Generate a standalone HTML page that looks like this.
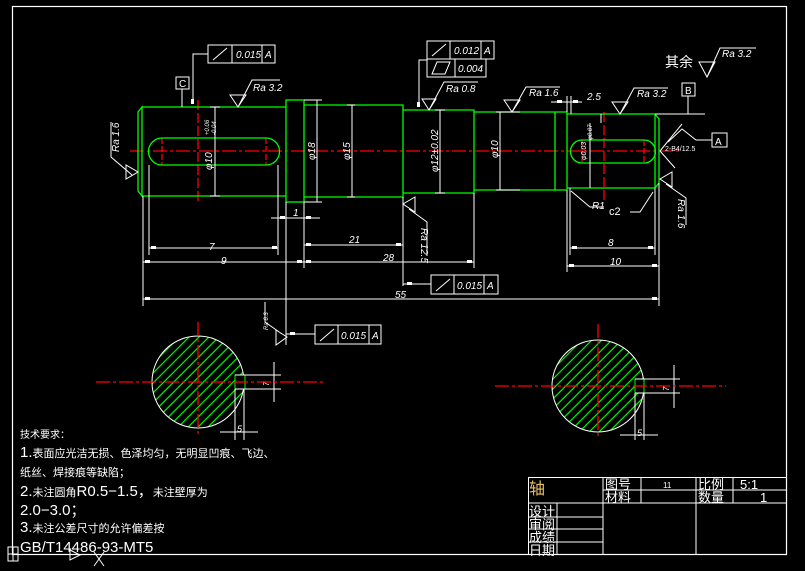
<!DOCTYPE html>
<html><head><meta charset="utf-8"><style>
html,body{margin:0;padding:0;background:#000;}
svg{display:block;}
text{font-family:"Liberation Sans","Noto Sans CJK SC",sans-serif;fill:#fff;}
.t{font-size:10px;font-style:italic;}
</style></head><body>
<svg width="805" height="571" viewBox="0 0 805 571" xmlns="http://www.w3.org/2000/svg">
<rect width="805" height="571" fill="#000"/>
<rect x="12.5" y="6.5" width="774" height="548" fill="none" stroke="#fff" stroke-width="1.2"/>

<g stroke="#f00" stroke-width="1.3" stroke-dasharray="14,3,3,3" fill="none">
<line x1="130" y1="151" x2="680" y2="151"/>
<line x1="198" y1="100" x2="198" y2="204" stroke-dasharray="10,3"/>
<line x1="604" y1="112" x2="604" y2="200" stroke-dasharray="10,3"/>
<line x1="162" y1="138" x2="162" y2="165" stroke-dasharray="6,2"/>
<line x1="266" y1="138" x2="266" y2="165" stroke-dasharray="6,2"/>
<line x1="582" y1="140" x2="582" y2="163" stroke-dasharray="6,2"/>
<line x1="644" y1="140" x2="644" y2="163" stroke-dasharray="6,2"/>
</g>

<g stroke="#0f0" stroke-width="1.3" fill="none">
<path d="M142,107 L286,107 M138,112 L142,107 L142,196 L138,191 Z M142,196 L286,196"/>
<rect x="286" y="100" width="18" height="102"/>
<path d="M304,105 L403,105 L403,197 L304,197"/>
<path d="M403,110 L474,110 L474,193 L403,193"/>
<path d="M474,112 L567,112 M474,190 L567,190 M555,112 L555,190"/>
<path d="M567,114 L655,114 L659,119 L659,183 L655,188 L567,188 M655,114 L655,188"/>
<path d="M567,112 L567,190"/>
<path d="M162,138 L266,138 A13.5,13.5 0 0 1 266,165 L162,165 A13.5,13.5 0 0 1 162,138 Z"/>
<path d="M582,140 L644,140 A11.5,11.5 0 0 1 644,163 L582,163 A11.5,11.5 0 0 1 582,140 Z"/>
</g>

<g stroke="#fff" stroke-width="1" fill="none">
<line x1="143" y1="196" x2="143" y2="306"/>
<line x1="149" y1="165" x2="149" y2="255"/>
<line x1="278" y1="165" x2="278" y2="255"/>
<line x1="286" y1="202" x2="286" y2="345"/>
<line x1="304" y1="202" x2="304" y2="268"/>
<line x1="403" y1="197" x2="403" y2="286"/>
<line x1="474" y1="193" x2="474" y2="268"/>
<line x1="567" y1="190" x2="567" y2="272"/>
<line x1="570" y1="188" x2="570" y2="255"/>
<line x1="655" y1="188" x2="655" y2="255"/>
<line x1="659" y1="183" x2="659" y2="306"/>
<line x1="567" y1="96" x2="567" y2="112"/>
<line x1="571" y1="96" x2="571" y2="114"/>
<line x1="149" y1="248" x2="278" y2="248"/>
<line x1="143" y1="262" x2="304" y2="262"/>
<line x1="304" y1="245" x2="403" y2="245"/>
<line x1="304" y1="262" x2="474" y2="262"/>
<line x1="143" y1="299" x2="659" y2="299"/>
<line x1="271" y1="218" x2="320" y2="218"/>
<line x1="570" y1="248" x2="655" y2="248"/>
<line x1="567" y1="266" x2="659" y2="266"/>
<line x1="551" y1="102" x2="582" y2="102"/>
<line x1="215" y1="107" x2="215" y2="196"/>
<line x1="210" y1="107" x2="220" y2="107"/><line x1="210" y1="196" x2="220" y2="196"/>
<line x1="317" y1="100" x2="317" y2="202"/>
<line x1="304" y1="100" x2="322" y2="100"/><line x1="304" y1="202" x2="322" y2="202"/>
<line x1="352" y1="105" x2="352" y2="197"/>
<line x1="347" y1="105" x2="355" y2="105"/><line x1="347" y1="197" x2="355" y2="197"/>
<line x1="440" y1="110" x2="440" y2="193"/>
<line x1="435" y1="110" x2="445" y2="110"/><line x1="435" y1="193" x2="445" y2="193"/>
<line x1="500" y1="112" x2="500" y2="190"/>
<line x1="496" y1="112" x2="520" y2="112"/><line x1="496" y1="190" x2="520" y2="190"/>
<line x1="590" y1="123" x2="590" y2="188"/>
<line x1="601" y1="114" x2="601" y2="123"/>
<polyline points="571,191 590,207 604,207"/>
<polyline points="653,192 640,212 630,212"/>
<rect x="208" y="45" width="67" height="18"/>
<line x1="232" y1="45" x2="232" y2="63"/><line x1="262" y1="45" x2="262" y2="63"/>
<polyline points="208,54 193,54 193,100"/>
<rect x="176" y="77" width="13" height="12"/>
<line x1="182" y1="89" x2="182" y2="107"/>
<rect x="427" y="41" width="67" height="18"/>
<line x1="450" y1="41" x2="450" y2="59"/><line x1="481" y1="41" x2="481" y2="59"/>
<rect x="427" y="59" width="59" height="18"/>
<line x1="455" y1="59" x2="455" y2="77"/>
<polyline points="427,60 419,60 419,107"/>
<rect x="431" y="275" width="67" height="19"/>
<line x1="454" y1="275" x2="454" y2="294"/><line x1="484" y1="275" x2="484" y2="294"/>
<line x1="403" y1="284" x2="431" y2="284"/>
<rect x="315" y="325" width="66" height="19"/>
<line x1="338" y1="325" x2="338" y2="344"/><line x1="369" y1="325" x2="369" y2="344"/>
<line x1="286" y1="334" x2="315" y2="334"/>
<rect x="682" y="83" width="13" height="13"/>
<line x1="688" y1="96" x2="688" y2="114"/>
<line x1="655" y1="114" x2="705" y2="114"/>
<rect x="712" y="133" width="15" height="14"/>
<polyline points="712,140 696,140 682,129 668,142"/>
<line x1="682" y1="124" x2="660" y2="151"/><line x1="660" y1="151" x2="675" y2="168"/>
<path d="M230,95 L246,95 L238,107 Z M238,107 L252,80 L280,80"/>
<path d="M422,99 L436,99 L429,110 Z M429,110 L444,82 L478,82"/>
<path d="M504,100 L520,100 L512,112 Z M512,112 L526,87 L560,87"/>
<path d="M612,102 L628,102 L620,114 Z M620,114 L634,88 L668,88"/>
<path d="M699,62 L715,62 L707,77 Z M707,77 L720,48 L756,48"/>
<path d="M126,165 L126,179 L138,172 Z M132,175 L111,157 L111,122"/>
<path d="M415,197 L415,212 L403,204 Z M409,209 L427,222 L427,256"/>
<path d="M672,172 L672,187 L660,179 Z M666,184 L686,198 L686,225"/>
<path d="M276,330 L276,345 L287,337 Z M282,334 L265,322 L265,302"/>
<line x1="213" y1="60" x2="227" y2="48"/><line x1="432" y1="56" x2="446" y2="44"/>
<line x1="436" y1="291" x2="450" y2="279"/><line x1="320" y1="341" x2="334" y2="329"/>
<path d="M432,74 L437,62 L450,62 L445,74 Z"/>
</g>
<g fill="#fff">
<rect x="151" y="246" width="5" height="3"/><rect x="272" y="246" width="5" height="3"/>
<rect x="145" y="260" width="5" height="3"/><rect x="297" y="260" width="5" height="3"/>
<rect x="306" y="243" width="5" height="3"/><rect x="396" y="243" width="5" height="3"/>
<rect x="306" y="260" width="5" height="3"/><rect x="467" y="260" width="5" height="3"/>
<rect x="145" y="297" width="5" height="3"/><rect x="652" y="297" width="5" height="3"/>
<rect x="280" y="216" width="5" height="3"/><rect x="306" y="216" width="5" height="3"/>
<rect x="572" y="246" width="5" height="3"/><rect x="648" y="246" width="5" height="3"/>
<rect x="569" y="264" width="5" height="3"/><rect x="652" y="264" width="5" height="3"/>
<rect x="557" y="100" width="5" height="3"/><rect x="573" y="100" width="5" height="3"/>
<rect x="191" y="99" width="3" height="5"/><rect x="417" y="102" width="3" height="5"/>
<rect x="407" y="282" width="5" height="3"/><rect x="290" y="332" width="5" height="3"/>
</g>
<g class="t">
<text x="236" y="58">0.015</text><text x="265" y="58">A</text>
<text x="179" y="87" font-style="normal">C</text>
<text x="454" y="54">0.012</text><text x="484" y="54">A</text>
<text x="458" y="72">0.004</text>
<text x="457" y="289">0.015</text><text x="487" y="289">A</text>
<text x="341" y="339">0.015</text><text x="372" y="339">A</text>
<text x="685" y="94" font-style="normal">B</text>
<text x="715" y="145" font-style="normal">A</text>
<text x="253" y="91">Ra 3.2</text>
<text x="446" y="92">Ra 0.8</text>
<text x="529" y="96">Ra 1.6</text>
<text x="637" y="97">Ra 3.2</text>
<text x="722" y="57">Ra 3.2</text>
<text x="665" y="67" font-style="normal" font-size="14">其余</text>
<text x="209" y="250">7</text><text x="221" y="264">9</text>
<text x="349" y="243">21</text><text x="383" y="261">28</text>
<text x="395" y="298">55</text><text x="293" y="216">1</text>
<text x="608" y="246">8</text><text x="610" y="265">10</text>
<text x="587" y="100">2.5</text>
<text x="592" y="209">R1</text>
<text x="609" y="215" font-style="normal" font-size="11">c2</text>
<text x="665" y="151" font-size="7" font-style="normal">2-B4/12.5</text>
<text transform="translate(212,170) rotate(-90)">φ10</text>
<text transform="translate(209,135) rotate(-90)" font-size="6">+0.06</text>
<text transform="translate(216,135) rotate(-90)" font-size="6">-0.04</text>
<text transform="translate(315,160) rotate(-90)">φ18</text>
<text transform="translate(350,160) rotate(-90)">φ15</text>
<text transform="translate(438,172) rotate(-90)">φ12±0.02</text>
<text transform="translate(498,158) rotate(-90)">φ10</text>
<text transform="translate(586,160) rotate(-90)" font-size="7">φ0.03</text>
<text transform="translate(592,140) rotate(-90)" font-size="6">φ0.07</text>
<text transform="translate(119,152) rotate(-90)">Ra 1.6</text>
<text transform="translate(421,228) rotate(90)">Ra 12.5</text>
<text transform="translate(678,199) rotate(90)">Ra 1.6</text>
<text transform="translate(268,330) rotate(-90)" font-size="6">Ra 6.3</text>
<text transform="translate(269,386) rotate(-90)" font-size="8">7</text>
<text transform="translate(669,391) rotate(-90)" font-size="8">7</text>
<text x="237" y="432" font-size="9">5</text>
<text x="637" y="436" font-size="9">5</text>
</g>

<defs><pattern id="h" width="7" height="7" patternUnits="userSpaceOnUse" patternTransform="rotate(45)"><line x1="1" y1="0" x2="1" y2="7" stroke="#0f0" stroke-width="1.2"/></pattern></defs>
<g stroke="#fff" stroke-width="1" fill="none">
<circle cx="198" cy="382" r="46" fill="url(#h)"/>
<rect x="235" y="375" width="10" height="14" fill="#000" stroke="#0f0"/>
<path d="M235,375 L281,375 M235,389 L281,389 M274,362 L274,402 M235,389 L235,440 M244,389 L244,440 M220,432 L258,432"/>
<circle cx="598" cy="386" r="46" fill="url(#h)"/>
<rect x="635" y="379" width="9" height="14" fill="#000" stroke="#0f0"/>
<path d="M635,379 L680,379 M635,393 L680,393 M674,365 L674,408 M635,393 L635,440 M644,393 L644,440 M620,435 L658,435"/>
</g>
<g stroke="#f00" stroke-width="1.3" stroke-dasharray="14,3,3,3">
<line x1="96" y1="382" x2="326" y2="382"/><line x1="198" y1="322" x2="198" y2="434"/>
<line x1="495" y1="386" x2="726" y2="386"/><line x1="598" y1="324" x2="598" y2="436"/>
</g>

<g font-size="11">
<text x="20" y="438" font-size="10">技术要求：</text>
<text x="20" y="457"><tspan font-size="15">1.</tspan>表面应光洁无损、色泽均匀，无明显凹痕、飞边、</text>
<text x="20" y="476">纸丝、焊接痕等缺陷；</text>
<text x="20" y="496"><tspan font-size="15">2.</tspan>未注圆角<tspan font-size="15">R0.5−1.5，</tspan>未注壁厚为</text>
<text x="20" y="515" font-size="15">2.0−3.0；</text>
<text x="20" y="532"><tspan font-size="15">3.</tspan>未注公差尺寸的允许偏差按</text>
<text x="20" y="552" font-size="15">GB/T14486-93-MT5</text>
</g>
<g stroke="#fff" stroke-width="1" fill="none">
<rect x="8" y="547" width="10" height="14"/><line x1="8" y1="554" x2="18" y2="554"/><line x1="13" y1="547" x2="13" y2="561"/>
<path d="M70,550 L80,555 L70,560 Z M94,552 L104,566 M104,552 L94,566"/>
</g>

<g stroke="#fff" stroke-width="1" fill="none">
<rect x="528.5" y="477.5" width="258" height="77"/>
<line x1="603" y1="477" x2="603" y2="555"/>
<line x1="641" y1="477" x2="641" y2="503"/>
<line x1="696" y1="477" x2="696" y2="555"/>
<line x1="733" y1="477" x2="733" y2="503"/>
<line x1="603" y1="490" x2="787" y2="490"/>
<line x1="528" y1="503" x2="787" y2="503"/>
<line x1="528" y1="517" x2="603" y2="517"/>
<line x1="528" y1="529" x2="603" y2="529"/>
<line x1="528" y1="542" x2="603" y2="542"/>
<line x1="557" y1="503" x2="557" y2="555"/>
</g>
<g font-size="13">
<text x="529" y="494" font-size="16" style="fill:#e8c060">轴</text>
<text x="605" y="489">图号</text><text x="605" y="502">材料</text>
<text x="663" y="488" font-size="8">11</text>
<text x="698" y="489">比例</text><text x="698" y="502">数量</text>
<text x="740" y="489">5:1</text><text x="760" y="502">1</text>
<text x="529" y="516">设计</text><text x="529" y="529">审阅</text>
<text x="529" y="542">成绩</text><text x="529" y="555">日期</text>
</g>
</svg>
</body></html>
